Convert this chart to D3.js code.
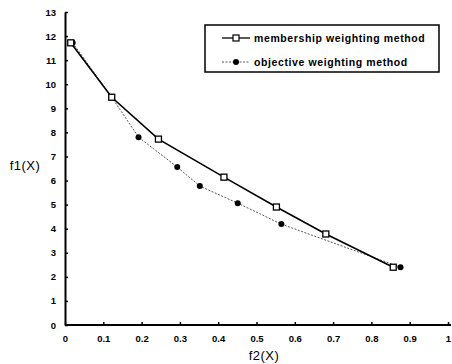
<!DOCTYPE html>
<html>
<head>
<meta charset="utf-8">
<script src="https://cdn.jsdelivr.net/npm/d3@7"></script>
<style>
  body { margin: 0; background: #fff; }
  svg text { font-family: "Liberation Sans", Arial, sans-serif; }
</style>
</head>
<body>
<div id="chart"></div>
<script>
// membership weighting method (open squares)
var memberX = [0.015, 0.122, 0.244, 0.415, 0.552, 0.681, 0.857];
var memberY = [11.72, 9.46, 7.72, 6.14, 4.9, 3.78, 2.4];
// objective weighting method (filled dots)
var objectX = [0.02, 0.122, 0.192, 0.293, 0.352, 0.451, 0.565, 0.876];
var objectY = [11.72, 9.46, 7.8, 6.56, 5.77, 5.06, 4.19, 2.4];
var xTicks = [0, 0.1, 0.2, 0.3, 0.4, 0.5, 0.6, 0.7, 0.8, 0.9, 1];
var yTicks = [0, 1, 2, 3, 4, 5, 6, 7, 8, 9, 10, 11, 12, 13];
var seriesNames = ["membership weighting method", "objective weighting method"];

var W = 452, H = 364;
var margin = { top: 12, right: 1, bottom: 39, left: 65 };
var width = W - margin.left - margin.right
  , height = H - margin.top - margin.bottom;

var svg = d3.select("#chart").append("svg")
  .attr("width", W).attr("height", H);

var g = svg.append("g")
  .attr("transform", "translate(" + margin.left + "," + margin.top + ")");

var xScale = d3.scaleLinear().domain([0, 1]).range([0, 383]);
var yScale = d3.scaleLinear().domain([0, 13]).range([height, 0]);

var xAxis = d3.axisBottom(xScale).tickValues(xTicks).tickSizeInner(-3).tickSizeOuter(0)
  .tickPadding(10).tickFormat(function(d) { return d === 0 || d === 1 ? d : d3.format(".1f")(d); });
var yAxis = d3.axisLeft(yScale).tickValues(yTicks).tickSizeInner(-3).tickSizeOuter(0)
  .tickPadding(9);

var gx = g.append("g")
  .attr("transform", "translate(0," + height + ")")
  .call(xAxis);
gx.select(".domain").attr("d", "M0,0H386");
var gy = g.append("g").call(yAxis);

[gx, gy].forEach(function(ax) {
  ax.select(".domain").attr("stroke", "#000").attr("stroke-width", 2);
  ax.selectAll(".tick line").attr("stroke", "#000").attr("stroke-width", 1.5);
  ax.selectAll(".tick text")
    .attr("fill", "#000")
    .style("font-size", "9.5px")
    .style("font-weight", "bold");
});

// axis titles
svg.append("text")
  .attr("x", 25).attr("y", 170)
  .attr("text-anchor", "middle")
  .style("font-size", "13px")
  .style("letter-spacing", "0.5px")
  .text("f1(X)");
svg.append("text")
  .attr("x", 264).attr("y", 360)
  .attr("text-anchor", "middle")
  .style("font-size", "13px")
  .style("letter-spacing", "0.5px")
  .text("f2(X)");

var line = d3.line()
  .x(function(d) { return xScale(d[0]); })
  .y(function(d) { return yScale(d[1]); });

var memberPts = memberX.map(function(x, i) { return [x, memberY[i]]; });
var objectPts = objectX.map(function(x, i) { return [x, objectY[i]]; });

g.append("path").datum(objectPts)
  .attr("d", line)
  .attr("fill", "none")
  .attr("stroke", "#555")
  .attr("stroke-width", 1)
  .attr("stroke-dasharray", "2,1.5");

g.append("path").datum(memberPts)
  .attr("d", line)
  .attr("fill", "none")
  .attr("stroke", "#000")
  .attr("stroke-width", 1.6);

g.selectAll(".dot").data(objectPts).enter()
  .append("circle")
  .attr("cx", function(d) { return xScale(d[0]); })
  .attr("cy", function(d) { return yScale(d[1]); })
  .attr("r", 3)
  .attr("fill", "#000");

g.selectAll(".sq").data(memberPts).enter()
  .append("rect")
  .attr("x", function(d) { return xScale(d[0]) - 3; })
  .attr("y", function(d) { return yScale(d[1]) - 3; })
  .attr("width", 6).attr("height", 6)
  .attr("fill", "#fff")
  .attr("stroke", "#000")
  .attr("stroke-width", 1.3);

// legend
var lg = svg.append("g").attr("transform", "translate(205,25)");
lg.append("rect")
  .attr("width", 234).attr("height", 47)
  .attr("fill", "#fff")
  .attr("stroke", "#000")
  .attr("stroke-width", 1.5);

var items = lg.selectAll(".item").data(seriesNames).enter()
  .append("g")
  .attr("transform", function(d, i) { return "translate(0," + (13 + i * 24) + ")"; });

items.append("line")
  .attr("x1", 17).attr("x2", 45)
  .attr("stroke", function(d, i) { return i === 0 ? "#000" : "#555"; })
  .attr("stroke-width", function(d, i) { return i === 0 ? 1.3 : 1; })
  .attr("stroke-dasharray", function(d, i) { return i === 0 ? null : "2,1.5"; });

items.each(function(d, i) {
  var s = d3.select(this);
  if (i === 0) {
    s.append("rect").attr("x", 28).attr("y", -3).attr("width", 6).attr("height", 6)
      .attr("fill", "#fff").attr("stroke", "#000").attr("stroke-width", 1.2);
  } else {
    s.append("circle").attr("cx", 31).attr("cy", 0).attr("r", 3).attr("fill", "#000");
  }
});

items.append("text")
  .attr("x", 49).attr("y", 0).attr("dy", "0.35em")
  .style("font-size", "10.5px")
  .style("font-weight", "bold")
  .style("letter-spacing", "0.6px")
  .text(function(d) { return d; });
</script>
</body>
</html>
